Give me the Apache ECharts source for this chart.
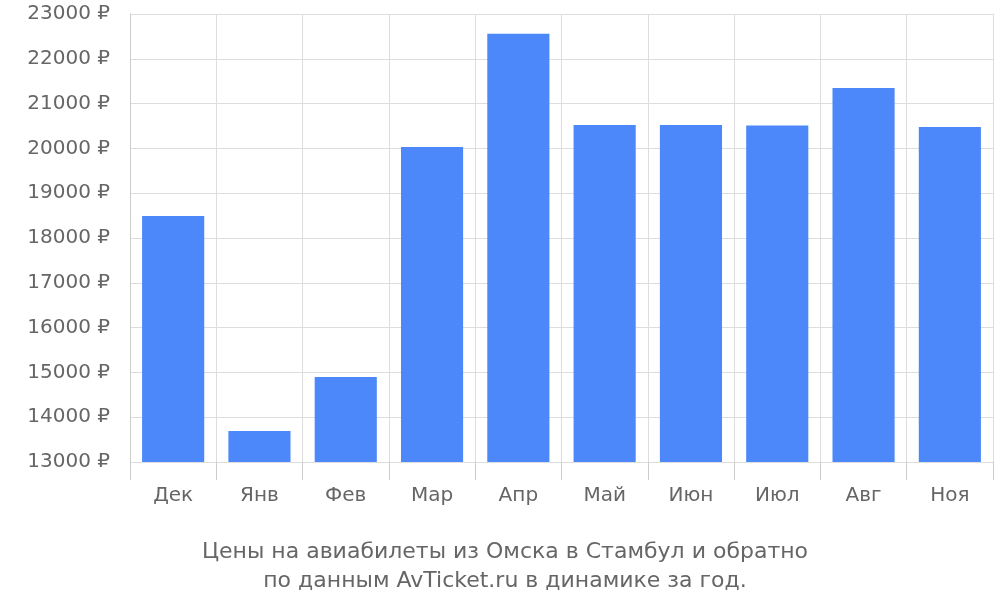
<!DOCTYPE html>
<html>
<head>
<meta charset="utf-8">
<script src="https://cdn.jsdelivr.net/npm/echarts@6/dist/echarts.min.js"></script>
<style>html,body{margin:0;padding:0;background:#fff}#main{width:1000px;height:600px}</style>
</head>
<body>
<div id="main"></div>
<script>
var months = ['Дек', 'Янв', 'Фев', 'Мар', 'Апр', 'Май', 'Июн', 'Июл', 'Авг', 'Ноя'];
var prices = [18490, 13690, 14900, 20030, 22560, 20520, 20520, 20510, 21350, 20480];
var titleLines = ['Цены на авиабилеты из Омска в Стамбул и обратно', 'по данным AvTicket.ru в динамике за год.'];

var chart = echarts.init(document.getElementById('main'));
var font = 'DejaVu Sans';

var option = {
    animation: false,
    textStyle: { fontFamily: font },
    title: {
        text: titleLines.join('\n'),
        left: 500,
        textAlign: 'center',
        top: 533,
        textStyle: { color: '#666', fontSize: 22, fontWeight: 'normal', lineHeight: 29, fontFamily: font }
    },
    grid: { left: 130, right: 7, top: 14, bottom: 138, containLabel: false },
    xAxis: {
        type: 'category',
        data: months,
        axisLine: { show: false },
        axisTick: { show: true, length: 18, lineStyle: { color: '#ccc' } },
        splitLine: { show: true, lineStyle: { color: '#ddd' } },
        axisLabel: { color: '#666', fontSize: 20, margin: 24, fontFamily: font }
    },
    yAxis: {
        type: 'value',
        min: 13000,
        max: 23000,
        interval: 1000,
        axisLine: { show: true, lineStyle: { color: '#ccc' } },
        axisTick: { show: false },
        splitLine: { lineStyle: { color: '#ddd' } },
        axisLabel: { color: '#666', fontSize: 20, margin: 20, fontFamily: font,
            formatter: function (v) { return v + ' ₽'; } }
    },
    series: [{
        type: 'bar',
        data: prices,
        barCategoryGap: '28%',
        itemStyle: { color: '#4d88fb' }
    }]
};
chart.setOption(option);
</script>
</body>
</html>
